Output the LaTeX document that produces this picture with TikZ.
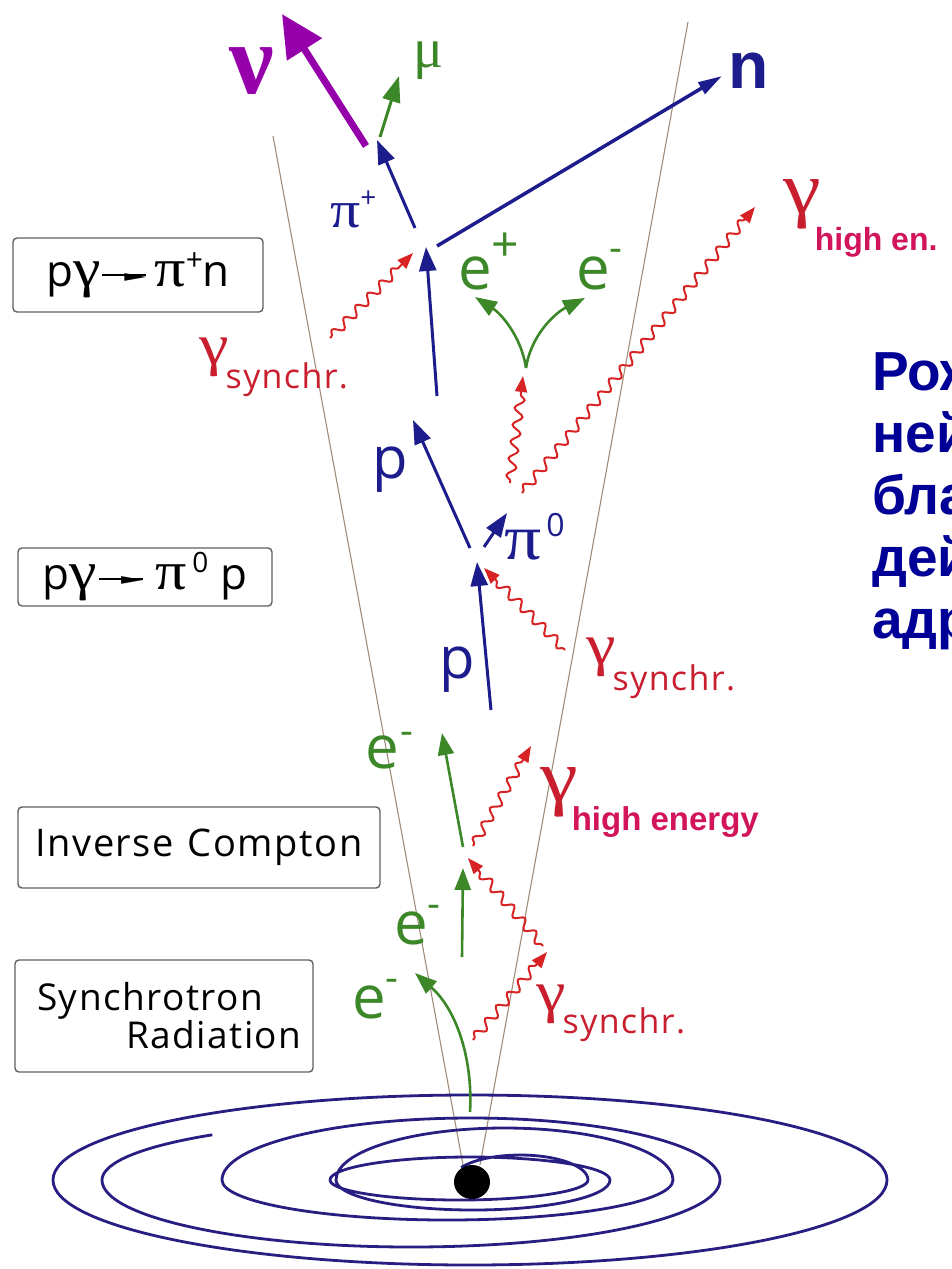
\documentclass[tikz,border=0pt]{standalone}
\usepackage{fontspec}
\usepackage{graphicx}
\setmainfont{Liberation Serif}
\newfontfamily\hum{Open Sans}[LetterSpace=4]
\newfontfamily\arl{Liberation Sans}
\newfontfamily\dvs{DejaVu Sans}
\usetikzlibrary{arrows.meta,decorations.pathmorphing}

\definecolor{navy}{RGB}{28,28,140}
\definecolor{purp}{RGB}{150,0,170}
\definecolor{grn}{RGB}{60,135,40}
\definecolor{phot}{RGB}{215,35,35}
\definecolor{synred}{RGB}{200,30,45}
\definecolor{hipink}{RGB}{210,20,90}
\definecolor{conec}{RGB}{160,140,120}
\definecolor{boxc}{RGB}{95,95,95}
\definecolor{diskc}{RGB}{40,30,130}
\definecolor{rus}{RGB}{0,0,150}

\newcommand\fsz[1]{\fontsize{#1}{#1}\selectfont}
% wide greek letters for the labels
\newcommand\wg[1]{\scalebox{1.15}[1]{#1}}
% small reaction arrow used inside the boxes
\newcommand\rarr{\rule[10pt]{44pt}{1.8pt}\kern-22pt\raisebox{5pt}{\dvs\fsz{26}\scalebox{1.1}[0.6]{►}}}

\tikzset{
  cone/.style={draw=conec, line width=1.1pt},
  disk/.style={draw=diskc, line width=2.8pt},
  barrow/.style={draw=navy, line width=3pt, -{Triangle[length=24pt,width=17pt]}},
  garrow/.style={draw=grn, line width=2.6pt, -{Triangle[length=22pt,width=16pt]}},
  wavy/.style={draw=phot, line width=2pt, decorate,
    decoration={snake, amplitude=4.5pt, segment length=17pt, pre length=2pt, post length=14pt},
    -{Triangle[length=16pt,width=12pt]}},
  box/.style={draw=boxc, line width=1.4pt, rounded corners=4pt, inner sep=0pt},
  lbl/.style={anchor=base west, inner sep=0pt},
}

\begin{document}
\begin{tikzpicture}[x=1pt,y=-1pt]
\useasboundingbox (0,0) rectangle (951,1269);

% ---------------- jet cone
\coordinate (cl1) at (273,136); \coordinate (cl2) at (463,1165);
\coordinate (cr1) at (688,22);  \coordinate (cr2) at (480,1165);
\draw[cone] (cl1) -- (cl2);
\draw[cone] (cr1) -- (cr2);

% ---------------- accretion disk
\draw[disk] (470,1180) ellipse [x radius=417, y radius=85];
\draw[disk] (411,1180) ++(-130:309 and 59)
  arc[start angle=-130,end angle=-180,x radius=309,y radius=59]
  arc[start angle=180,end angle=0,x radius=309,y radius=67]
  arc[start angle=0,end angle=-180,x radius=249,y radius=62]
  arc[start angle=180,end angle=0,x radius=225.5,y radius=40]
  arc[start angle=0,end angle=-180,x radius=168.5,y radius=52]
  arc[start angle=180,end angle=0,x radius=137,y radius=30]
  arc[start angle=0,end angle=-180,x radius=140,y radius=23]
  arc[start angle=180,end angle=0,x radius=129,y radius=20]
  arc[start angle=0,end angle=-150,x radius=68,y radius=25];
\fill[black] (472,1182) ellipse [x radius=18, y radius=17];

% ---------------- synchrotron radiation
\coordinate (se0) at (470,1112); \coordinate (se1) at (415,973);
\draw[garrow] (se0) .. controls (473,1060) and (457,1010) .. (se1);
\coordinate (sg0) at (473,1040); \coordinate (sg1) at (547,952);
\draw[wavy] (sg0) -- (sg1);

% ---------------- inverse Compton vertex
\coordinate (ic) at (463,855);
\coordinate (ie0) at (462,957); \coordinate (ie1) at (463,868);
\draw[garrow] (ie0) -- (ie1);
\coordinate (ig0) at (543,946); \coordinate (ig1) at (468,858);
\draw[wavy] (ig0) -- (ig1);
\coordinate (oe0) at (463,847); \coordinate (oe1) at (442,733);
\draw[garrow] (oe0) -- (oe1);
\coordinate (og0) at (473,846); \coordinate (og1) at (531,746);
\draw[wavy] (og0) -- (og1);

% ---------------- p gamma -> pi0 p vertex
\coordinate (v0) at (473,553);
\coordinate (pa0) at (491,710); \coordinate (pa1) at (477,562);
\draw[barrow] (pa0) -- (pa1);
\coordinate (ga0) at (565,650); \coordinate (ga1) at (484,568);
\draw[wavy] (ga0) -- (ga1);
\coordinate (pb0) at (470,548); \coordinate (pb1) at (413,420);
\draw[barrow] (pb0) -- (pb1);
\coordinate (pz0) at (484,547); \coordinate (pz1) at (507,513);
\draw[barrow] (pz0) -- (pz1);

% ---------------- pi0 decay photons and pair creation
\coordinate (gp0) at (510,483); \coordinate (gp1) at (523,376);
\draw[wavy] (gp0) -- (gp1);
\coordinate (gh0) at (522,493); \coordinate (gh1) at (755,207);
\draw[wavy] (gh0) -- (gh1);
\coordinate (pair) at (526,368);
\coordinate (epl) at (475,297); \coordinate (emi) at (585,298);
\draw[garrow] (pair) .. controls (521,335) and (500,313) .. (epl);
\draw[garrow] (pair) .. controls (531,335) and (555,313) .. (emi);

% ---------------- p gamma -> pi+ n vertex
\coordinate (v1) at (427,240);
\coordinate (pc0) at (437,396); \coordinate (pc1) at (426,247);
\draw[barrow] (pc0) -- (pc1);
\coordinate (gc0) at (330,338); \coordinate (gc1) at (413,253);
\draw[wavy] (gc0) -- (gc1);
\coordinate (pp0) at (415,228); \coordinate (pp1) at (377,140);
\draw[barrow] (pp0) -- (pp1);
\coordinate (nn0) at (437,246); \coordinate (nn1) at (722,76);
\draw[draw=navy, line width=3.5pt, -{Triangle[length=24pt,width=13pt]}] (nn0) -- (nn1);
\coordinate (nu0) at (366,146); \coordinate (nu1) at (282,14);
\draw[draw=purp, line width=7pt, -{Triangle[length=42pt,width=40pt]}] (nu0) -- (nu1);
\coordinate (mu0) at (380,137); \coordinate (mu1) at (399,76);
\draw[draw=grn, line width=3pt, -{Triangle[length=26pt,width=18pt]}] (mu0) -- (mu1);

% ---------------- particle labels
\node[lbl, text=purp, font=\bfseries\fsz{100}] (nu) at (229,93) {ν};
\node[lbl, text=grn, font=\fsz{56}] (mu) at (413,67) {μ};
\node[lbl, text=navy, font=\arl\bfseries\fsz{66}] (nlab) at (728,88) {n};
\node[lbl, text=navy, font=\fsz{52}] (pip) at (330,227) {\wg{π}\raisebox{20pt}{\hum\fsz{28}+}};
\node[lbl, text=grn, font=\hum\fsz{60}] (eplab) at (458,289) {e\raisebox{28pt}{\fsz{48}+}};
\node[lbl, text=grn, font=\hum\fsz{60}] (emlab) at (576,289) {e\raisebox{28pt}{\fsz{40}-}};
\node[lbl, text=navy, font=\hum\fsz{58}] (pup) at (372,478) {p};
\node[lbl, text=navy, font=\hum\fsz{58}] (pdn) at (439,678) {p};
\node[lbl, text=navy, font=\fsz{64}] (pi0) at (504,559) {\wg{π}\kern5pt\raisebox{23pt}{\hum\fsz{32}0}};
\node[lbl, text=grn, font=\hum\fsz{60}] (e1) at (365,768) {e\kern2pt\raisebox{24pt}{\fsz{40}-}};
\node[lbl, text=grn, font=\hum\fsz{60}] (e2) at (394,944) {e\raisebox{27pt}{\fsz{40}-}};
\node[lbl, text=grn, font=\hum\fsz{60}] (e3) at (352,1018) {e\raisebox{27pt}{\fsz{40}-}};

% ---------------- photon labels
\node[lbl, text=synred, font=\fsz{58}] (gs1) at (199,364) {\wg{γ}\kern-3pt\raisebox{-24pt}{\hum\fsz{34}synchr.}};
\node[lbl, text=synred, font=\fsz{58}] (gs2) at (586,664) {\wg{γ}\kern-3pt\raisebox{-26pt}{\hum\fsz{34}synchr.}};
\node[lbl, text=synred, font=\fsz{58}] (gs3) at (536,1011) {\wg{γ}\kern-3pt\raisebox{-22pt}{\hum\fsz{34}synchr.}};
\node[lbl, text=synred, font=\fsz{74}] (ghe) at (540,801) {\wg{γ}\kern-6pt\raisebox{-29pt}{\arl\bfseries\fsz{33}\color{hipink}high energy}};
\node[lbl, text=synred, font=\fsz{74}] (ghn) at (783,213) {\wg{γ}\kern-6pt\raisebox{-37pt}{\arl\bfseries\fsz{32}\color{hipink}high en.}};

% ---------------- process boxes
\node[box, minimum width=250pt, minimum height=74pt] (b1) at (138,275)
  {\hum\fsz{44}p{\rmfamily\fsz{54}\wg{γ}}\kern2pt\rarr\kern8pt{\rmfamily\fsz{54}\wg{π}}\raisebox{16pt}{\fsz{30}+}n};
\node[box, minimum width=254pt, minimum height=58pt] (b2) at (145,577)
  {\hum\fsz{44}p{\rmfamily\fsz{54}\wg{γ}}\kern2pt\rarr\kern12pt{\rmfamily\fsz{54}\wg{π}}\kern6pt\raisebox{17pt}{\fsz{28}0}\kern12pt p};
\node[box, minimum width=362pt, minimum height=81pt] (b3) at (199,847.5)
  {\hum\fsz{38}Inverse\kern14pt Compton};
\node[box, minimum width=298pt, minimum height=112pt] (b4) at (164,1016) {};
\node[lbl, font=\hum\fsz{37}] (b4a) at (37,1010) {Synchrotron};
\node[lbl, font=\hum\fsz{37}] (b4b) at (126,1048) {Radiation};

% ---------------- caption at the right edge
\foreach \w [count=\i] in {Рож,ней,бла,дей,адр}
  \node[lbl, text=rus, font=\arl\bfseries\fsz{55}] (ru\i) at (872,{390+62*(\i-1)}) {\w};
\end{tikzpicture}
\end{document}
